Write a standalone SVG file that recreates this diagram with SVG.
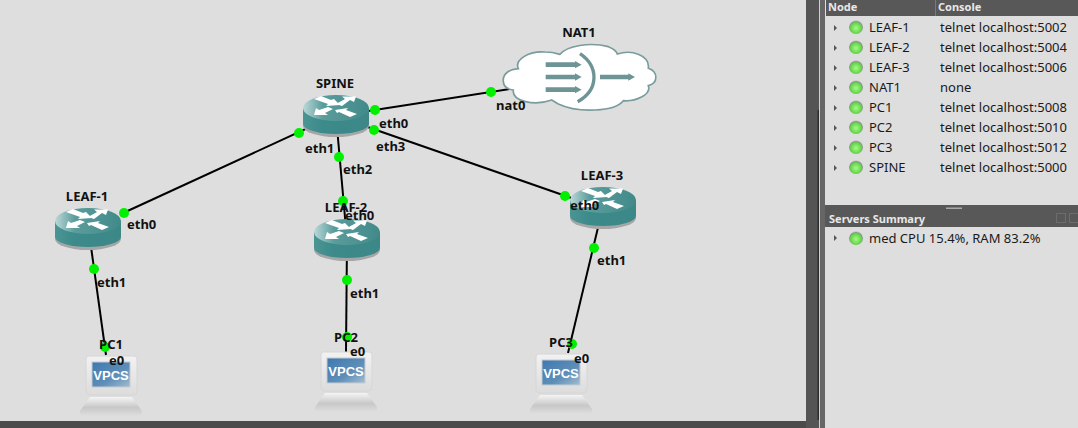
<svg xmlns="http://www.w3.org/2000/svg" width="1078" height="428" viewBox="0 0 1078 428">
<style>
text{font-family:"Noto Sans","DejaVu Sans",sans-serif}
.lbl{font-size:13px;font-weight:700;fill:#111}
.name{font-size:13px;font-weight:700;fill:#111}
.link{stroke:#000;stroke-width:2;fill:none}
.dot{fill:#00f000}
.row{font-size:13px;fill:#1a1a1a}
.hdr{font-size:11px;font-weight:700;fill:#e8e8e8}
.tri{fill:#555}
</style>
<defs>
<linearGradient id="topg" x1="0" x2="1" y1="0" y2="0"><stop offset="0" stop-color="#bcd8d8"/><stop offset=".3" stop-color="#5b9c9c"/><stop offset="1" stop-color="#418a8a"/></linearGradient>
<linearGradient id="sideg" x1="0" x2="1" y1="0" y2="0"><stop offset="0" stop-color="#4b9494"/><stop offset=".3" stop-color="#3c8a8a"/><stop offset="1" stop-color="#3d8787"/></linearGradient>
<radialGradient id="led" cx=".5" cy=".58" r=".55"><stop offset="0" stop-color="#a8f88c"/><stop offset=".7" stop-color="#62d844"/><stop offset=".84" stop-color="#7f9a7f"/><stop offset="1" stop-color="#cdcdcd"/></radialGradient>
<linearGradient id="scr" x1="0" x2="1" y1="0" y2="1"><stop offset="0" stop-color="#3f78b0"/><stop offset=".6" stop-color="#5f8fb8"/><stop offset="1" stop-color="#a4bdd0"/></linearGradient>
<linearGradient id="mon" x1="0" x2="0" y1="0" y2="1"><stop offset="0" stop-color="#f2f2f2"/><stop offset="1" stop-color="#dcdcdc"/></linearGradient>
<linearGradient id="base" x1="0" x2="0" y1="0" y2="1"><stop offset="0" stop-color="#f4f4f4"/><stop offset=".55" stop-color="#c8c8c8"/><stop offset="1" stop-color="#dedede"/></linearGradient>
<g id="router">
<ellipse cx="0" cy="18" rx="33" ry="11" fill="#a6a6a6"/>
<path d="M-33 0V16A33 10 0 0 0 33 16V0Z" fill="url(#sideg)"/>
<ellipse cx="0" cy="0" rx="33" ry="13" fill="url(#topg)"/>
<g fill="#fff">
<path d="M-22-9L-15-12L-5-8L-2-9L4-3L-10-2L-8-4Z"/>
<path d="M0-4L9-9L6-11.500L20-11.500L18-6L14-8L6-2Z"/>
<path d="M-22 7L-20 0L-17 2L-8-1L-3 1L-11 5L-8 7Z"/>
<path d="M-1 2L12 0L10 2L21 6L14 9L3 4L1 5Z"/>
</g>
</g>
<g id="vpcs">
<path d="M-23 0H23Q26 0 26 3V35Q26 39 22 39H-20Q-25 39-25 35V3Q-25 0-23 0Z" fill="url(#mon)" stroke="#d6d6d6"/>
<rect x="-19" y="6" width="38" height="25" fill="url(#scr)" stroke="#c4ccd2"/>
<path d="M-21 41H21L31 55Q32 60 28 60H-28Q-32 60-31 55Z" fill="url(#base)"/>
<text x="0" y="24" text-anchor="middle" style="font-family:'Liberation Sans',sans-serif;font-size:13px;font-weight:700;fill:#fff">VPCS</text>
</g>
</defs>

<rect id="canvas" width="806" height="428" fill="#dedede"/>
<rect x="0" y="421" width="806" height="7" fill="#4b4b4b"/>
<rect x="806" y="0" width="13" height="428" fill="#545454"/>
<rect x="819" y="0" width="1" height="428" fill="#cfcfcf"/>
<rect x="820" y="0" width="5" height="428" fill="#666"/>
<rect x="825" y="0" width="253" height="428" fill="#dedede"/>
<rect x="817.500" y="110" width="1.500" height="310" fill="#2e2e2e"/>

<g id="connectors">
<path class="link" d="M336 115L121 214"/>
<path class="link" d="M336 116L347 240"/>
<path class="link" d="M336 116L603 209"/>
<path class="link" d="M336 116L555 82"/>
<path class="link" d="M88 225L106 355"/>
<path class="link" d="M347 240L346 352"/>
<path class="link" d="M601 215L568 353"/>
</g>

<g id="link-dots">
<circle class="dot" cx="375" cy="110" r="5"/><circle class="dot" cx="491" cy="92" r="5"/>
<circle class="dot" cx="374" cy="130" r="5"/><circle class="dot" cx="565" cy="196" r="5"/>
<circle class="dot" cx="299" cy="133" r="5"/><circle class="dot" cx="124" cy="213" r="5"/>
<circle class="dot" cx="339" cy="157" r="5"/><circle class="dot" cx="343" cy="201" r="5"/>
<circle class="dot" cx="94" cy="269" r="5"/><circle class="dot" cx="105" cy="347" r="5"/>
<circle class="dot" cx="347" cy="280" r="5"/><circle class="dot" cx="347" cy="337" r="5"/>
<circle class="dot" cx="594" cy="248" r="5"/><circle class="dot" cx="572" cy="344" r="5"/>
</g>

<g id="NAT1">
<g transform="translate(495 40) scale(.33333)">
<path d="M25 125C22 100 45 88 70 86C58 60 100 32 150 36C170 36 185 40 195 43C215 18 285 5 340 20C355 26 365 35 367 42C410 28 465 45 460 85C490 95 490 130 460 137C470 165 420 185 385 182C360 215 250 220 190 192L170 180C120 198 50 185 55 150C35 148 26 138 25 125Z" fill="#fff" stroke="#7a9c9c" stroke-width="5"/>
<g fill="#6f9496">
<path d="M152 67H240V63L260 74L240 85V81H152Z"/>
<path d="M152 104H240V100L260 111L240 122V118H152Z"/>
<path d="M152 142H240V138L260 149L240 160V156H152Z"/>
<path d="M315 104H400V100L420 111L400 122V118H315Z"/>
</g>
<path d="M255 41C312 80 312 150 248 185" fill="none" stroke="#6f9496" stroke-width="10"/>
</g>
<text class="name" x="579" y="37" text-anchor="middle">NAT1</text>
</g>
<g id="SPINE"><use href="#router" x="336" y="108"/><text class="name" x="335" y="88" text-anchor="middle">SPINE</text></g>
<g id="LEAF-1"><use href="#router" x="88" y="221"/><text class="name" x="87" y="201" text-anchor="middle">LEAF-1</text></g>
<g id="LEAF-2"><use href="#router" x="347" y="232"/><text class="name" x="346" y="212" text-anchor="middle">LEAF-2</text></g>
<g id="LEAF-3"><use href="#router" x="603" y="200"/><text class="name" x="602" y="180" text-anchor="middle">LEAF-3</text></g>
<g id="PC1"><use href="#vpcs" x="111" y="356"/><text class="name" x="111" y="349" text-anchor="middle">PC1</text></g>
<g id="PC2"><use href="#vpcs" x="346" y="352"/><text class="name" x="346" y="342" text-anchor="middle">PC2</text></g>
<g id="PC3"><use href="#vpcs" x="561" y="354"/><text class="name" x="561" y="347" text-anchor="middle">PC3</text></g>

<g id="link-labels">
<text class="lbl" x="379" y="128">eth0</text><text class="lbl" x="496" y="110">nat0</text>
<text class="lbl" x="376" y="151">eth3</text><text class="lbl" x="570" y="210">eth0</text>
<text class="lbl" x="305" y="153">eth1</text><text class="lbl" x="127" y="229">eth0</text>
<text class="lbl" x="343" y="174">eth2</text><text class="lbl" x="345" y="220">eth0</text>
<text class="lbl" x="97" y="287">eth1</text><text class="lbl" x="109" y="365">e0</text>
<text class="lbl" x="350" y="298">eth1</text><text class="lbl" x="350" y="356">e0</text>
<text class="lbl" x="597" y="265">eth1</text><text class="lbl" x="574" y="363">e0</text>
</g>

<g id="panel">
<rect x="826" y="0" width="252" height="16" fill="#585858"/>
<rect x="935" y="0" width="1" height="16" fill="#7a7a7a"/>
<text class="hdr" x="828" y="11">Node</text><text class="hdr" x="938" y="11">Console</text>
<g id="rows">
<path class="tri" d="M834 25l3 3l-3 3Z"/><circle cx="856" cy="27" r="7" fill="url(#led)"/><text class="row" x="869" y="32">LEAF-1</text><text class="row" x="940" y="32">telnet localhost:5002</text>
<path class="tri" d="M834 45l3 3l-3 3Z"/><circle cx="856" cy="47" r="7" fill="url(#led)"/><text class="row" x="869" y="52">LEAF-2</text><text class="row" x="940" y="52">telnet localhost:5004</text>
<path class="tri" d="M834 65l3 3l-3 3Z"/><circle cx="856" cy="67" r="7" fill="url(#led)"/><text class="row" x="869" y="72">LEAF-3</text><text class="row" x="940" y="72">telnet localhost:5006</text>
<path class="tri" d="M834 85l3 3l-3 3Z"/><circle cx="856" cy="87" r="7" fill="url(#led)"/><text class="row" x="869" y="92">NAT1</text><text class="row" x="940" y="92">none</text>
<path class="tri" d="M834 105l3 3l-3 3Z"/><circle cx="856" cy="107" r="7" fill="url(#led)"/><text class="row" x="869" y="112">PC1</text><text class="row" x="940" y="112">telnet localhost:5008</text>
<path class="tri" d="M834 125l3 3l-3 3Z"/><circle cx="856" cy="127" r="7" fill="url(#led)"/><text class="row" x="869" y="132">PC2</text><text class="row" x="940" y="132">telnet localhost:5010</text>
<path class="tri" d="M834 145l3 3l-3 3Z"/><circle cx="856" cy="147" r="7" fill="url(#led)"/><text class="row" x="869" y="152">PC3</text><text class="row" x="940" y="152">telnet localhost:5012</text>
<path class="tri" d="M834 165l3 3l-3 3Z"/><circle cx="856" cy="167" r="7" fill="url(#led)"/><text class="row" x="869" y="172">SPINE</text><text class="row" x="940" y="172">telnet localhost:5000</text>
</g>
<rect x="825" y="205" width="253" height="22" fill="#585858"/>
<rect x="946" y="207.500" width="16" height="1.500" fill="#aaa"/>
<text class="hdr" x="829" y="223">Servers Summary</text>
<g fill="none" stroke="#808080" stroke-dasharray="1 1"><rect x="1056.500" y="213.500" width="9" height="9"/><rect x="1069.500" y="213.500" width="9" height="9"/></g>
<path class="tri" d="M834 235l3 3l-3 3Z"/><circle cx="856" cy="238" r="7" fill="url(#led)"/><text class="row" x="869" y="243">med CPU 15.4%, RAM 83.2%</text>
</g>
</svg>
